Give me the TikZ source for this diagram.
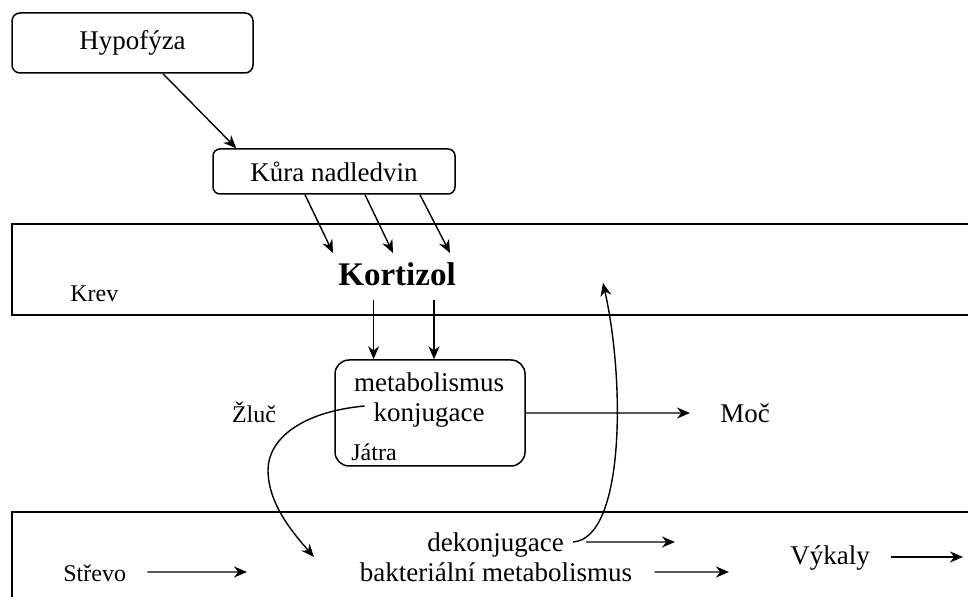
\documentclass[tikz,border=0pt]{standalone}
\usepackage{fontspec}
\setmainfont{Liberation Serif}
\usetikzlibrary{arrows.meta,positioning,calc}

\begin{document}
\begin{tikzpicture}[
    x=0.5pt,y=-0.5pt,
    box/.style={draw,line width=0.75pt,inner sep=0pt,align=center,font=\fontsize{13.5}{16}\selectfont},
    txt/.style={inner sep=0pt,font=\fontsize{13.5}{16}\selectfont},
    lbl/.style={inner sep=0pt,font=\fontsize{12}{14}\selectfont},
    band/.style={line width=0.75pt},
    arr/.style={-{Stealth[length=6.5pt,width=5.5pt]},line width=0.7pt},
]
\useasboundingbox (0,0) rectangle (968,597);
% blood and gut, open on the right
\draw[band] (968,224) -- (12,224) -- (12,315) -- (968,315);
\draw[band] (968,512) -- (12,512) -- (12,600);
\node[lbl,anchor=base west] (krev) at (70,302) {Krev};
\node[lbl,anchor=base west] (strevo) at (63,581.7) {Střevo};

\node[box,rounded corners=4pt,minimum width=120.5pt,minimum height=30pt] (hypo) at (132.5,43) {Hypofýza};
\node[box,rounded corners=3.5pt,minimum width=121pt,minimum height=22.5pt] (kura) at (334,171.5) {Kůra nadledvin};
\node[inner sep=0pt,anchor=base,font=\bfseries\fontsize{16.5}{20}\selectfont] (kortizol) at (397,286) {Kortizol};
\node[box,rounded corners=7pt,minimum width=95pt,minimum height=53pt] (jatra) at (430,413) {};
\node[txt,anchor=base] (metab) at (429,392) {metabolismus};
\node[txt,anchor=base] (konj) at (429,421.7) {konjugace};
\node[lbl,anchor=base west] (jatratxt) at (351,460.7) {Játra};
\node[lbl,anchor=base west] (zluc) at (231.6,422.7) {Žluč};
\node[txt,anchor=base west] (moc) at (720,422.7) {Moč};
\node[txt,anchor=base] (dekonj) at (495.5,551.7) {dekonjugace};
\node[txt,anchor=base] (bakt) at (496,581.7) {bakteriální metabolismus};
\node[txt,anchor=base west] (vykaly) at (790,565) {Výkaly};

% free ends
\coordinate (krevback) at (603,283);
\coordinate (strevoend) at (247,572);
\coordinate (dekonjend) at (675,542);
\coordinate (baktend) at (729,572);
\coordinate (vykalyend) at (963,557);

\draw[arr] ([xshift=15.25pt]hypo.south) -- ([xshift=12pt]kura.north west);
\foreach \a/\b in {-14.5/-32, 15.5/-2, 43/26.5}
  \draw[arr] ([xshift=\a pt]kura.south) -- ([shift={(\b pt,16.5pt)}]kortizol.base);
\foreach \a/\b in {-11.7/-28.2, 18.5/2}
  \draw[arr] ([shift={(\a pt,-7pt)}]kortizol.base) -- ([xshift=\b pt]jatra.north);
\draw[arr] (jatra.east) -- ([shift={(-15pt,4.85pt)}]moc.base west);

% bile to gut and back to blood
\draw[arr] ([shift={(-4.3pt,7.85pt)}]konj.base west) .. controls (300,412) and (268,440) .. (268,470)
  .. controls (268,505) and (295,535) .. ([shift={(-22.8pt,12.35pt)}]bakt.base west);
\draw[arr] ([shift={(4.5pt,4.85pt)}]dekonj.base east) .. controls (625,538) and (625,380) .. (krevback);

\draw[arr] ([shift={(10.5pt,4.85pt)}]strevo.base east) -- (strevoend);
\draw[arr] ([shift={(11pt,4.85pt)}]dekonj.base east) -- (dekonjend);
\draw[arr] ([shift={(11pt,4.85pt)}]bakt.base east) -- (baktend);
\draw[arr] ([shift={(10.5pt,4pt)}]vykaly.base east) -- (vykalyend);
\end{tikzpicture}
\end{document}
